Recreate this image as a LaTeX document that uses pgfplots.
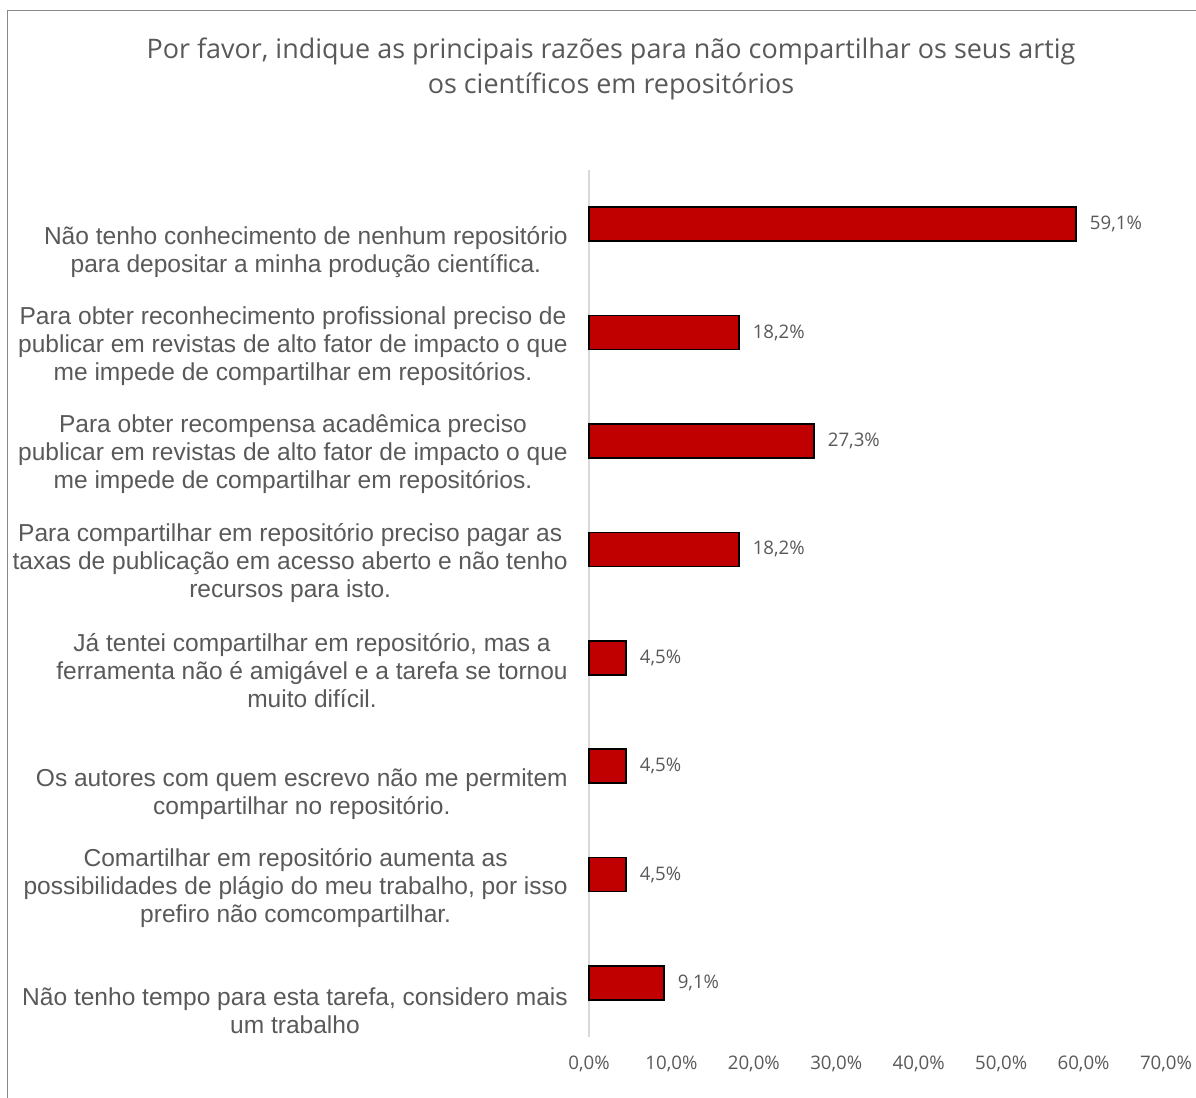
\documentclass[border=0pt]{standalone}
\usepackage{fontspec}
\setmainfont{Liberation Sans}
\newfontfamily\segoe{Open Sans}
\usepackage{pgfplots}
\pgfplotsset{compat=1.18}
\definecolor{txt}{HTML}{595959}
\definecolor{barred}{HTML}{C00000}
\definecolor{axgray}{HTML}{D9D9D9}
\definecolor{bordergray}{HTML}{898989}
\begin{document}
\begin{tikzpicture}[x=0.75pt,y=-0.75pt]
\coordinate (A) at (589,1037);
\begin{axis}[
  at={(A)}, anchor=south west,
  scale only axis, width=432.75pt, height=650.25pt,
  xbar, bar width=25.5pt,
  xmin=0, xmax=70, ymin=-0.5, ymax=7.5, y dir=reverse,
  axis x line=bottom, axis y line=left,
  x axis line style={draw=none},
  y axis line style={draw=axgray, line width=1.5pt, -},
  xtick={0,10,...,70}, ytick={0,...,7}, major tick length=0,
  /pgf/number format/assume math mode=true,
  xticklabel={\pgfmathprintnumber[fixed,fixed zerofill,precision=1,use comma]{\tick}\%},
  xticklabel style={font=\segoe\fontsize{14}{16}\selectfont, text=txt, inner sep=0pt, yshift=-14pt},
  yticklabels={
    {\strut\\Não tenho conhecimento de nenhum repositório\\para depositar a minha produção científica.},
    {Para obter reconhecimento profissional preciso de\\publicar em revistas de alto fator de impacto o que\\me impede de compartilhar em repositórios.},
    {Para obter recompensa acadêmica preciso\\publicar em revistas de alto fator de impacto o que\\me impede de compartilhar em repositórios.},
    {Para compartilhar em repositório preciso pagar as\\taxas de publicação em acesso aberto e não tenho\\recursos para isto.},
    {Já tentei compartilhar em repositório, mas a\\ferramenta não é amigável e a tarefa se tornou\\muito difícil.},
    {\strut\\Os autores com quem escrevo não me permitem\\compartilhar no repositório.},
    {Comartilhar em repositório aumenta as\\possibilidades de plágio do meu trabalho, por isso\\prefiro não comcompartilhar.},
    {\strut\\Não tenho tempo para esta tarefa, considero mais\\um trabalho}
  },
  yticklabel style={font=\fontsize{18.4}{21}\selectfont, text=txt, align=center, inner sep=0pt, anchor=east, xshift=-15.75pt, yshift=-10pt},
  point meta=x,
  nodes near coords={\pgfmathprintnumber[fixed,fixed zerofill,precision=1,use comma]{\pgfplotspointmeta}\%},
  nodes near coords style={font=\segoe\fontsize{14}{16}\selectfont, text=txt, anchor=west, inner sep=0pt, xshift=9.75pt},
  clip=false,
]
\addplot[fill=barred, draw=black, line width=1.2pt] coordinates {(59.1,0) (18.2,1) (27.3,2) (18.2,3) (4.5,4) (4.5,5) (4.5,6) (9.1,7)};
\end{axis}
\node[font=\segoe\fontsize{20.2}{26.25}\selectfont, text=txt, align=center] at (611,69) {Por favor, indique as principais razões para não compartilhar os seus artig\\os científicos em repositórios};
\draw[bordergray, line width=0.75pt] (7,1100) -- (7,10) -- (1200,10);
\pgfresetboundingbox
\useasboundingbox (0,0) rectangle (1196,1097);
\end{tikzpicture}
\end{document}
